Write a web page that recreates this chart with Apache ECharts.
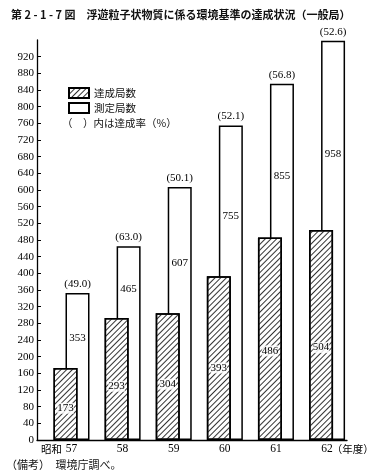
<!DOCTYPE html>
<html>
<head>
<meta charset="utf-8">
<script src="https://cdn.jsdelivr.net/npm/echarts@6/dist/echarts.min.js"></script>
<style>
  html, body { margin: 0; padding: 0; background: #fff; }
  #chart { width: 377px; height: 476px; }
</style>
</head>
<body>
<div id="chart"></div>
<script>
// 年度（昭和）
const years = [57, 58, 59, 60, 61, 62];
const yearLabels = ['昭和 57', '58', '59', '60', '61', '62（年度）'];
// 達成局数 / 測定局数
const achieved = [173, 293, 304, 393, 486, 504];
const measured = [353, 465, 607, 755, 855, 958];
// 達成率（%）
const rates = ['49.0', '63.0', '50.1', '52.1', '56.8', '52.6'];

const numFont = '"Liberation Serif", "DejaVu Serif", serif';
const jpFont = '"Noto Sans CJK JP", sans-serif';

const myChart = echarts.init(document.getElementById('chart'));

const xLabel = function (value) {
  const i = years.indexOf(Math.round(value * 1000) / 1000);
  if (i < 0) return '';
  const m = yearLabels[i].match(/^(\D*)(\d+)(.*)$/);
  let s = '';
  if (m[3]) s += '{padL|}';
  if (m[1]) s += '{pre|' + m[1] + '}';
  s += '{num|' + m[2] + '}';
  if (m[3]) s += '{suf|' + m[3] + '}';
  if (m[1]) s += '{padR|}';
  return s;
};

const option = {
  animation: false,
  backgroundColor: '#fff',
  title: {
    text: '第 2 - 1 - 7 図　浮遊粒子状物質に係る環境基準の達成状況（一般局）',
    left: 6,
    top: 4,
    textStyle: {
      fontFamily: jpFont,
      fontSize: 11,
      fontWeight: 'bold',
      color: '#111'
    }
  },
  legend: {
    data: ['達成局数', '測定局数'],
    orient: 'vertical',
    left: 63,
    top: 82,
    itemWidth: 20,
    itemHeight: 10,
    itemGap: 3,
    icon: 'rect',
    textStyle: {
      fontFamily: jpFont,
      fontSize: 10.5,
      color: '#111'
    }
  },
  graphic: [
    {
      type: 'text',
      left: 62,
      top: 118,
      style: {
        text: '（　）内は達成率（%）',
        font: '10.5px ' + jpFont,
        fill: '#111'
      }
    },
    {
      type: 'text',
      left: 6,
      top: 459,
      style: {
        text: '（備考）　環境庁調べ。',
        font: '11px ' + jpFont,
        fill: '#111'
      }
    }
  ],
  grid: {
    left: 37,
    right: 30,
    top: 40,
    bottom: 36
  },
  xAxis: {
    type: 'value',
    min: 56.325,
    max: 62.39,
    splitNumber: 6,
    splitLine: {show: false},
    axisTick: {show: false},
    axisLine: {show: true, lineStyle: {color: '#000', width: 1.3}},
    axisLabel: {
      margin: 3,
      showMinLabel: false,
      showMaxLabel: false,
      formatter: xLabel,
      rich: {
        num: {fontFamily: numFont, fontSize: 11.5, color: '#000'},
        pre: {fontFamily: jpFont, fontSize: 10.5, color: '#000', width: 26},
        padR: {width: 26},
        suf: {fontFamily: jpFont, fontSize: 10.5, color: '#000', width: 40},
        padL: {width: 40}
      }
    }
  },
  yAxis: {
    type: 'value',
    min: 0,
    max: 960,
    interval: 40,
    splitLine: {show: false},
    axisLine: {show: true, lineStyle: {color: '#000', width: 1.3}},
    axisTick: {show: true, inside: true, length: 4, lineStyle: {color: '#000'}},
    axisLabel: {
      margin: 3,
      showMaxLabel: false,
      fontFamily: numFont,
      fontSize: 11,
      color: '#000'
    }
  },
  series: [
    {
      name: '達成局数',
      type: 'bar',
      z: 3,
      barWidth: 24,
      barGap: '-50%',
      itemStyle: {
        color: '#fff',
        borderColor: '#000',
        borderWidth: 1.5,
        decal: {
          symbol: 'rect',
          symbolSize: 1,
          rotation: -Math.PI / 4,
          dashArrayX: [1, 0],
          dashArrayY: [1, 3],
          color: '#333'
        }
      },
      label: {
        show: true,
        position: ['50%', '56%'],
        align: 'center',
        verticalAlign: 'middle',
        fontFamily: numFont,
        fontSize: 11,
        color: '#000',
        backgroundColor: 'rgba(255,255,255,0.85)',
        padding: [0, 0]
      },
      data: achieved.map((v, i) => [years[i], v])
    },
    {
      name: '測定局数',
      type: 'bar',
      z: 2,
      barWidth: 24,
      barGap: '-50%',
      itemStyle: {
        color: '#fff',
        borderColor: '#000',
        borderWidth: 1.5
      },
      label: {
        show: true,
        align: 'center',
        verticalAlign: 'middle',
        fontFamily: numFont,
        fontSize: 11,
        color: '#000'
      },
      data: measured.map((v, i) => ({
        value: [years[i], v],
        label: {position: ['50%', ((v - achieved[i]) * 0.6 / v * 100) + '%']}
      })),
      // 達成率（棒の上に表示）
      markPoint: {
        symbol: 'rect',
        symbolSize: 1,
        itemStyle: {color: 'rgba(0,0,0,0)'},
        label: {
          show: true,
          position: 'top',
          distance: 3,
          fontFamily: numFont,
          fontSize: 11,
          color: '#000',
          formatter: (p) => '(' + p.value + ')'
        },
        data: measured.map((v, i) => ({coord: [years[i], v], value: rates[i]}))
      }
    }
  ]
};
myChart.setOption(option);
</script>
</body>
</html>
